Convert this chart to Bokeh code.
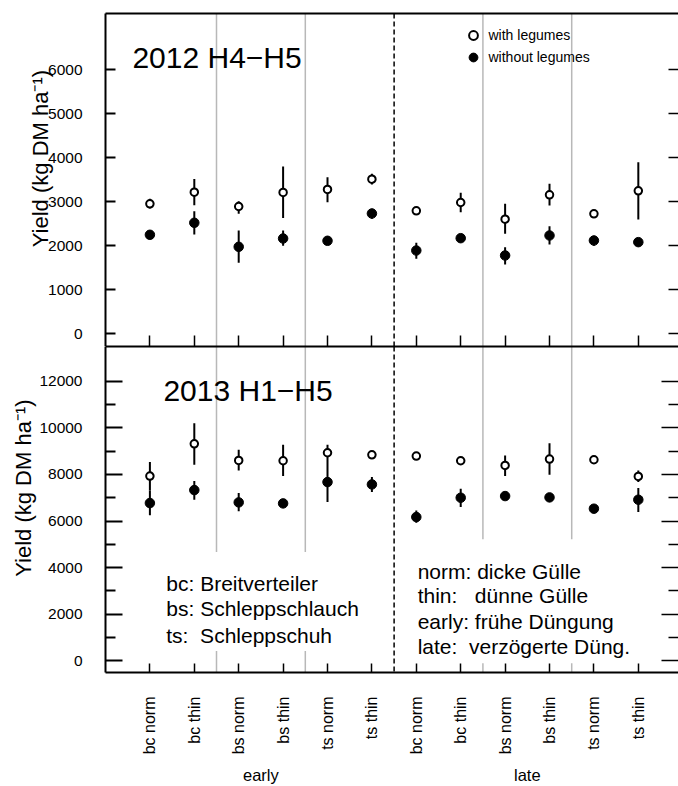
import math
from bokeh.plotting import figure
from bokeh.models import (Range1d, FixedTicker, LinearAxis, Span, BoxAnnotation,
                          Label, Legend, LegendItem, ColumnDataSource)
from bokeh.layouts import column
from bokeh.embed import file_html
from bokeh.resources import INLINE

# ---------------- data ----------------
treatments = ["bc norm", "bc thin", "bs norm", "bs thin", "ts norm", "ts thin",
              "bc norm", "bc thin", "bs norm", "bs thin", "ts norm", "ts thin"]
timing = ["early", "late"]
positions = [1, 2, 3, 4, 5, 6, 7, 8, 9, 10, 11, 12]

# 2012 H4-H5
y12_with = [2955, 3218, 2893, 3212, 3280, 3515, 2795, 2984, 2605, 3159, 2727, 3250]
y12_with_lo = [2850, 2920, 2730, 2630, 2990, 3395, 2740, 2760, 2275, 2915, 2670, 2600]
y12_with_hi = [3070, 3520, 3015, 3800, 3560, 3635, 2850, 3205, 2955, 3410, 2790, 3900]
y12_wo = [2250, 2523, 1977, 2166, 2114, 2734, 1893, 2173, 1780, 2234, 2120, 2083]
y12_wo_lo = [2190, 2257, 1614, 2000, 2060, 2614, 1705, 2110, 1575, 2030, 2000, 2030]
y12_wo_hi = [2310, 2786, 2348, 2348, 2170, 2841, 2068, 2235, 1968, 2445, 2230, 2140]

# 2013 H1-H5
y13_with = [7929, 9316, 8601, 8587, 8930, 8844, 8786, 8587, 8387, 8658, 8630, 7915]
y13_with_lo = [7316, 8416, 8173, 7929, 8529, 8740, 8690, 8490, 7929, 7987, 8530, 7672]
y13_with_hi = [8529, 10200, 9060, 9274, 9274, 8950, 8880, 8690, 8816, 9343, 8730, 8173]
y13_wo = [6772, 7329, 6801, 6758, 7672, 7572, 6172, 7001, 7072, 7015, 6530, 6915]
y13_wo_lo = [6244, 6916, 6416, 6660, 6815, 7243, 5930, 6601, 6970, 6915, 6430, 6387]
y13_wo_hi = [7316, 7715, 7201, 6860, 8529, 7886, 6458, 7387, 7170, 7115, 6630, 7415]

y12_ticks = [0, 1000, 2000, 3000, 4000, 5000, 6000]
y13_ticks = [0, 2000, 4000, 6000, 8000, 10000, 12000]
y13_minor = [1000, 3000, 5000, 7000, 9000, 11000]

legend_labels = ["with legumes", "without legumes"]
method_notes = ["bc: Breitverteiler", "bs: Schleppschlauch", "ts:\u00a0 Schleppschuh"]
dose_notes = ["norm: dicke G\u00fclle", "thin:\u00a0\u00a0 d\u00fcnne G\u00fclle",
              "early: fr\u00fche D\u00fcngung", "late:\u00a0 verz\u00f6gerte D\u00fcng."]
ylab = "\u00a0" * 7 + "Yield (kg DM ha\u207b\u00b9)"

FONT = "Liberation Sans"
W = 678
GRAY = "#b8b8b8"


def base_fig(height, yr, mtop, mbottom):
    p = figure(width=W, height=height, x_range=Range1d(0, 12.905), y_range=yr,
               output_backend="svg", toolbar_location=None,
               min_border_left=105, min_border_right=0,
               min_border_top=mtop, min_border_bottom=mbottom,
               x_axis_location=None, y_axis_location=None)
    p.outline_line_color = None
    p.xgrid.visible = False
    p.ygrid.visible = False
    p.background_fill_color = "white"
    p.border_fill_color = "white"
    return p


def hidden_axis(ticker, tin, tmin=0, line=True):
    ax = LinearAxis(ticker=ticker)
    ax.major_label_text_font_size = "0px"
    ax.major_label_text_color = None
    ax.major_label_standoff = 0
    ax.major_tick_out = 0
    ax.major_tick_in = tin
    ax.minor_tick_out = 0
    ax.minor_tick_in = tmin
    ax.major_tick_line_width = 1.5
    ax.minor_tick_line_width = 1.5
    if line:
        ax.axis_line_width = 2
        ax.axis_line_color = "black"
    else:
        ax.axis_line_color = None
    return ax


def left_axis(ticker, tin, tmin, standoff):
    ax = LinearAxis(ticker=ticker, axis_label=ylab)
    ax.axis_label_text_font = FONT
    ax.axis_label_text_font_size = "22px"
    ax.axis_label_text_font_style = "normal"
    ax.axis_label_text_color = "black"
    ax.axis_label_standoff = standoff
    ax.major_label_text_font = FONT
    ax.major_label_text_font_size = "15.5px"
    ax.major_label_text_color = "black"
    ax.major_label_standoff = 23
    ax.major_tick_out = 0
    ax.major_tick_in = tin
    ax.minor_tick_out = 0
    ax.minor_tick_in = tmin
    ax.major_tick_line_width = 2
    ax.minor_tick_line_width = 2
    ax.axis_line_width = 2
    return ax


def add_points(p, mid_with, lo_with, hi_with, mid_wo, lo_wo, hi_wo):
    src = ColumnDataSource(dict(x=positions, yw=mid_with, lw=lo_with, hw=hi_with,
                                yo=mid_wo, lo=lo_wo, ho=hi_wo))
    p.segment(x0="x", y0="lw", x1="x", y1="hw", source=src, line_color="black", line_width=2)
    p.segment(x0="x", y0="lo", x1="x", y1="ho", source=src, line_color="black", line_width=2)
    r_open = p.scatter(x="x", y="yw", source=src, marker="circle", size=7.5,
                       fill_color="white", line_color="black", line_width=2)
    r_fill = p.scatter(x="x", y="yo", source=src, marker="circle", size=9.5,
                       fill_color="black", line_color="black", line_width=1)
    return r_open, r_fill


def add_separators(p):
    for loc in [2.5, 4.5, 8.5, 10.5]:
        p.add_layout(Span(location=loc, dimension="height", line_color=GRAY,
                          line_width=1.5, level="underlay"))


def add_dashed(p):
    p.add_layout(Span(location=6.5, dimension="height", line_color="black",
                      line_width=1.5, line_dash="5 3", level="annotation"))


def note(p, x, y, txt, size):
    p.add_layout(Label(x=x, y=y, text=txt, text_font=FONT, text_font_size=size,
                       text_color="black", text_baseline="alphabetic", level="overlay"))


# ---------------- top panel: 2012 ----------------
p1 = base_fig(346, Range1d(-289, 7280), 13, 0)
add_separators(p1)
add_dashed(p1)
r_open, r_fill = add_points(p1, y12_with, y12_with_lo, y12_with_hi, y12_wo, y12_wo_lo, y12_wo_hi)

p1.add_layout(left_axis(FixedTicker(ticks=y12_ticks), 10, 0, -8), "left")
p1.add_layout(hidden_axis(FixedTicker(ticks=y12_ticks), 10, line=False), "right")
p1.add_layout(hidden_axis(FixedTicker(ticks=positions), 11), "below")
p1.add_layout(hidden_axis(FixedTicker(ticks=[]), 0), "above")

note(p1, 0.606, 6286, "2012 H4\u2212H5", "30px")

leg = Legend(items=[LegendItem(label=legend_labels[0], renderers=[r_open]),
                    LegendItem(label=legend_labels[1], renderers=[r_fill])],
             location=(356.5, 277.7))
leg.padding = 0
leg.margin = 0
leg.spacing = -4
leg.glyph_width = 22
leg.glyph_height = 22
leg.label_standoff = 5
leg.label_text_font = FONT
leg.label_text_font_size = "14px"
leg.label_text_color = "black"
leg.label_height = 18
leg.border_line_color = None
leg.background_fill_alpha = 0
p1.add_layout(leg)

# ---------------- bottom panel: 2013 ----------------
p2 = base_fig(440, Range1d(-497, 13489), 0, 114)
add_separators(p2)
p2.add_layout(BoxAnnotation(left=1.3, right=5.9, bottom=430, top=4670, fill_color="white",
                            fill_alpha=1, line_color=None, level="underlay"))
p2.add_layout(BoxAnnotation(left=6.9, right=12.3, bottom=-99, top=5216, fill_color="white",
                            fill_alpha=1, line_color=None, level="underlay"))
add_dashed(p2)
add_points(p2, y13_with, y13_with_lo, y13_with_hi, y13_wo, y13_wo_lo, y13_wo_hi)

p2.add_layout(left_axis(FixedTicker(ticks=y13_ticks, minor_ticks=y13_minor), 17, 10, 0), "left")
p2.add_layout(hidden_axis(FixedTicker(ticks=y13_ticks, minor_ticks=y13_minor), 17, 10, line=False), "right")
p2.add_layout(hidden_axis(FixedTicker(ticks=[]), 0), "above")

xax = LinearAxis(ticker=FixedTicker(ticks=positions),
                 major_label_overrides={i: t for i, t in zip(positions, treatments)})
xax.major_label_orientation = math.pi / 2
xax.major_label_text_font = FONT
xax.major_label_text_font_size = "16px"
xax.major_label_text_color = "black"
xax.major_label_standoff = 24
xax.major_tick_out = 0
xax.major_tick_in = 9
xax.major_tick_line_width = 1.5
xax.minor_tick_line_color = None
xax.axis_line_width = 2
p2.add_layout(xax, "below")

gax = LinearAxis(ticker=FixedTicker(ticks=[3.5, 9.5]),
                 major_label_overrides={3.5: timing[0], 9.5: timing[1]})
gax.major_label_text_font = FONT
gax.major_label_text_font_size = "16.5px"
gax.major_label_text_color = "black"
gax.major_label_standoff = 2
gax.major_tick_line_color = None
gax.minor_tick_line_color = None
gax.axis_line_color = None
p2.add_layout(gax, "below")

note(p2, 1.304, 11601, "2013 H1\u2212H5", "30px")
for txt, yv in zip(method_notes, [3317, 2246, 1101]):
    note(p2, 1.369, yv, txt, "21px")
for txt, yv in zip(dose_notes, [3844, 2816, 1671, 600]):
    note(p2, 7.03, yv, txt, "21px")

layout = column(p1, p2, spacing=0)
open("out.html", "w").write(file_html(layout, INLINE))
